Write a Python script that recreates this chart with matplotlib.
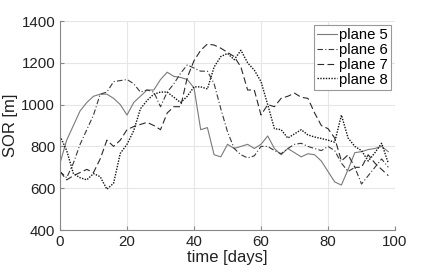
import numpy as np
import matplotlib
matplotlib.use("Agg")
import matplotlib.pyplot as plt

plt.rcParams['font.family'] = ['Liberation Sans', 'DejaVu Sans']

# time axis (days), sampled every 2 days
days = np.arange(0, 100, 2)

plane5 = [720, 830, 900, 970, 1010, 1040, 1050, 1050, 1030, 1000,
          950, 1010, 1040, 1070, 1070, 1120, 1155, 1135, 1130, 1120,
          1080, 880, 890, 760, 750, 810, 790, 800, 810, 790,
          810, 850, 790, 760, 790, 770, 750, 765, 760, 730,
          680, 630, 615, 690, 770, 775, 785, 790, 800, 775]

plane6 = [680, 650, 720, 810, 880, 950, 1050, 1060, 1110, 1115,
          1120, 1100, 1060, 1070, 1060, 990, 1060, 1100, 1150, 1190,
          1175, 1160, 1160, 1100, 980, 870, 790, 760, 745, 755,
          800, 800, 780, 765, 790, 810, 815, 800, 790, 780,
          800, 780, 720, 680, 700, 620, 660, 700, 740, 700]

plane7 = [680, 640, 660, 675, 690, 675, 740, 830, 800, 830,
          880, 895, 905, 915, 900, 880, 960, 990, 990, 1130,
          1210, 1260, 1290, 1285, 1270, 1250, 1230, 1180, 1070, 1070,
          950, 1000, 990, 1030, 1040, 1055, 1035, 1030, 960, 900,
          885, 840, 730, 760, 700, 700, 760, 720, 690, 660]

plane8 = [850, 780, 670, 650, 640, 670, 655, 595, 624, 767,
          810, 875, 980, 1020, 1050, 1060, 1060, 1035, 1010, 1040,
          1085, 1085, 1075, 1180, 1230, 1245, 1215, 1260, 1200, 1165,
          1110, 1000, 885, 880, 840, 860, 880, 855, 845, 838,
          830, 820, 950, 840, 800, 780, 730, 770, 815, 720]

fig = plt.figure(figsize=(4.36, 2.73), dpi=100)
ax = fig.add_axes([0.1376, 0.1575, 0.7684, 0.7655])

ax.plot(days, plane5, color="#7a7a7a", lw=0.8, ls="-", label="plane 5")
ax.plot(days, plane6, color="#3a3a3a", lw=0.8, ls=(0, (5, 2, 1, 2)), label="plane 6")
ax.plot(days, plane7, color="#2a2a2a", lw=0.8, ls=(0, (6, 3)), label="plane 7")
ax.plot(days, plane8, color="#111111", lw=1.0, ls=(0, (1, 1)), label="plane 8")

ax.set_xlim(0, 100)
ax.set_ylim(400, 1400)
ax.set_xticks([0, 20, 40, 60, 80, 100])
ax.set_yticks([400, 600, 800, 1000, 1200, 1400])
ax.grid(True, color="#e6e6e6", lw=0.8)
ax.set_axisbelow(True)
for s in ["top", "right"]:
    ax.spines[s].set_visible(False)
for s in ["left", "bottom"]:
    ax.spines[s].set_color("#888888")
    ax.spines[s].set_linewidth(0.8)
ax.tick_params(direction="in", length=3, color="#888888", labelsize=10.8,
               labelcolor="#222222")

ax.set_xlabel("time [days]", fontsize=12, color="#222222", labelpad=1)
ax.set_ylabel("SOR [m]", fontsize=12, color="#222222", labelpad=2)

leg = ax.legend(loc="upper right", fontsize=10.7, handlelength=1.4,
                handletextpad=0.1, borderpad=0.2, labelspacing=0.05,
                borderaxespad=0.3, fancybox=False, framealpha=1)
leg.get_frame().set_edgecolor("#999999")
leg.get_frame().set_linewidth(0.8)

fig.savefig("out.png", dpi=100)
